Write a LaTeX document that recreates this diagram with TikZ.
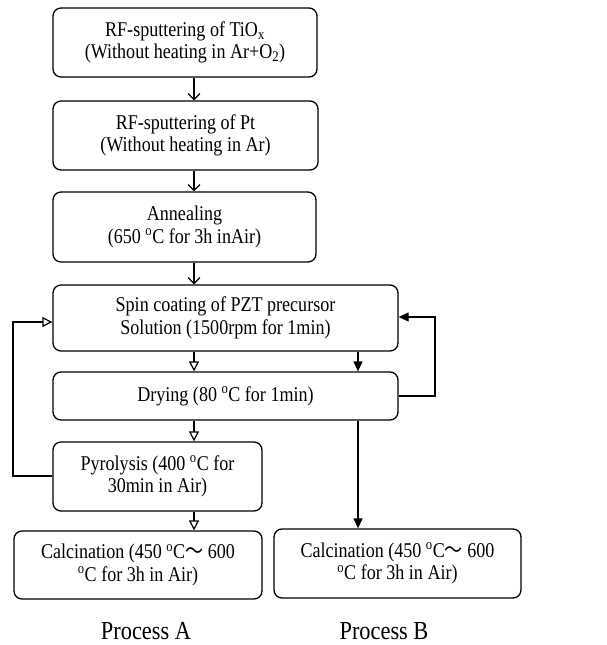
\documentclass[tikz,border=0pt]{standalone}
\usepackage{fontspec}
\setmainfont[FakeStretch=0.86]{Liberation Serif}
\newfontfamily\cjk[FakeStretch=0.86]{Noto Sans CJK SC}
\usetikzlibrary{arrows.meta}
\newcommand{\dg}{\textsuperscript{o}}
\begin{document}
\begin{tikzpicture}[x=1pt,y=-1pt,
  box/.style={draw,line width=1.3pt,rounded corners=8pt,align=center,inner sep=0pt,font=\fontsize{21}{22.5}\selectfont},
  vee/.style={line width=1.2pt,-{Straight Barb[length=6pt,width=12pt,line width=1.2pt]}},
  open/.style={line width=1.2pt,-{Triangle[open,length=10pt,width=10pt,line width=1.2pt]}},
  full/.style={line width=1.2pt,-{Triangle[length=10pt,width=9pt]}},
  lbl/.style={font=\fontsize{26}{28}\selectfont}]
\useasboundingbox (0,0) rectangle (606,645);
\node[box,minimum width=264pt,minimum height=69pt] (b1) at (185,42.5) {RF-sputtering of TiO\textsubscript{x}\\(Without heating in Ar+O\textsubscript{2})};
\node[box,minimum width=265pt,minimum height=69pt] (b2) at (185.5,135.5) {RF-sputtering of Pt\\(Without heating in Ar)};
\node[box,minimum width=263pt,minimum height=70pt] (b3) at (184.5,227) {Annealing\\(650 \dg C for 3h inAir)};
\node[box,minimum width=345pt,minimum height=66pt] (b4) at (225.5,318) {Spin coating of PZT precursor\\Solution (1500rpm for 1min)};
\node[box,minimum width=345pt,minimum height=48pt] (b5) at (225.5,396) {Drying (80 \dg C for 1min)};
\node[box,minimum width=209pt,minimum height=69pt] (b6) at (157.5,476.5) {Pyrolysis (400 \dg C for\\30min in Air)};
\node[box,minimum width=248pt,minimum height=68pt] (b7) at (138,565) {Calcination (450 \dg C{\cjk ～} 600\\\dg C for 3h in Air)};
\node[box,minimum width=247pt,minimum height=69pt] (b8) at (397.5,563.5) {Calcination (450 \dg C{\cjk ～} 600\\\dg C for 3h in Air)};
\node[lbl] (pa) at (146,631) {Process A};
\node[lbl] (pb) at (384,631) {Process B};
\coordinate (ax) at (194,0);
\coordinate (bx) at (358,0);
\coordinate (lx) at (13,0);
\coordinate (rx) at (435,0);
\draw[vee] (b1.south -| ax) -- (b2.north -| ax);
\draw[vee] (b2.south -| ax) -- (b3.north -| ax);
\draw[vee] (b3.south -| ax) -- (b4.north -| ax);
\draw[open] (b4.south -| ax) -- (b5.north -| ax);
\draw[open] (b5.south -| ax) -- (b6.north -| ax);
\draw[open] (b6.south -| ax) -- (b7.north -| ax);
\draw[full] (b4.south -| bx) -- (b5.north -| bx);
\draw[full] (b5.south -| bx) -- (b8.north -| bx);
\draw[open] ([yshift=0.5pt]b6.west) -- ([yshift=0.5pt]b6.west -| lx) |- ([yshift=-4pt]b4.west);
\draw[full] (b5.east) -- (b5.east -| rx) |- ([yshift=1pt]b4.east);
\end{tikzpicture}
\end{document}
